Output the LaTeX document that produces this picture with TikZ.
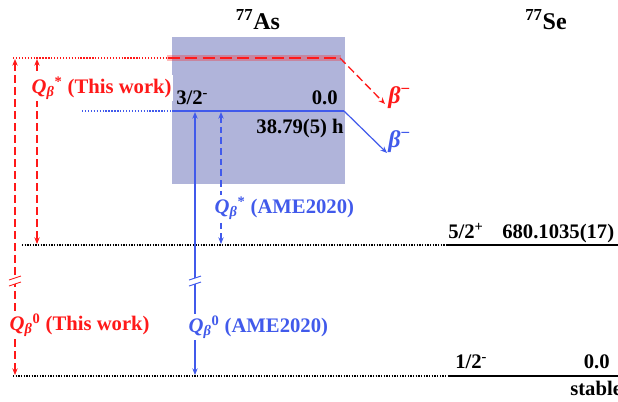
\documentclass[tikz,border=0pt]{standalone}
\usepackage{fontspec}
\setmainfont{Liberation Serif}
\usetikzlibrary{arrows.meta}
\definecolor{myred}{RGB}{255,25,25}
\definecolor{myblue}{RGB}{65,90,235}
\definecolor{boxcol}{RGB}{176,180,218}
\begin{document}
\begin{tikzpicture}[x=0.75pt,y=-0.75pt,
  font=\bfseries\fontsize{15.5}{18}\selectfont,
  lbl/.style={inner sep=0pt, anchor=base west},
  qlbl/.style={inner sep=1pt, anchor=base west, fill=white},
  title/.style={inner sep=0pt, anchor=base, font=\bfseries\fontsize{18}{20}\selectfont},
  betalbl/.style={inner sep=0pt, anchor=base west, font=\bfseries\fontsize{18}{20}\selectfont},
  dotline/.style={line width=1pt, dash pattern=on 1pt off 1pt},
  level/.style={line width=1.4pt},
  tip/.style={-{Stealth[length=5pt,width=4pt]}},
  dtip/.style={{Stealth[length=5pt,width=4pt]}-{Stealth[length=5pt,width=4pt]}},
  reddash/.style={myred, line width=0.8pt, dash pattern=on 6pt off 3pt},
  bluedash/.style={myblue, line width=0.8pt, dash pattern=on 5pt off 3pt},
  brk/.style={line width=0.7pt}
]
\useasboundingbox (0,0) rectangle (618,401);

% shaded box
\fill[boxcol] (172,37) rectangle (345,184);

% coordinates
\coordinate (redL) at (13,58);
\coordinate (redA) at (168,58);
\coordinate (redB) at (340,58);
\coordinate (redE) at (385,104);
\coordinate (blueL) at (82,111);
\coordinate (blueA) at (172,111);
\coordinate (blueB) at (344,111);
\coordinate (blueE) at (387,153);
\coordinate (l1L) at (22,245);
\coordinate (l1A) at (446,245);
\coordinate (l1R) at (618,245);
\coordinate (l0L) at (13,376);
\coordinate (l0A) at (448,376);
\coordinate (l0R) at (618,376);

% titles
\node[title] (as) at (258,29) {\textsuperscript{77}As};
\node[title] (se) at (546,29) {\textsuperscript{77}Se};

% red level
\draw[myred, opacity=0.3, line width=5pt] (167,58) -- (341,58);
\draw[myred, line width=1.1pt, dash pattern=on 9pt off 4pt] (redA) -- (redB);
\draw[myred, line width=0.8pt, dash pattern=on 1pt off 1.2pt] (redL) -- (redA);
\draw[reddash, line width=1pt, tip] (redB) -- (redE);
\node[betalbl, text=myred] (bred) at (388,103) {\textit{β}\textsuperscript{−}};

% blue level
\draw[myblue, line width=1.1pt] (blueA) -- (blueB);
\draw[myblue, line width=1pt, dash pattern=on 1pt off 1.2pt] (blueL) -- (blueA);
\draw[myblue, line width=0.9pt, tip] (blueB) -- (blueE);
\node[betalbl, text=myblue] (bblue) at (388,147) {\textit{β}\textsuperscript{−}};

\node[lbl] (spinAs) at (176,104) {3/2\textsuperscript{-}};
\node[lbl, anchor=base east] (enAs) at (338,104) {0.0};
\node[lbl, anchor=base east] (hl) at (344,133) {38.79(5) h};

% Se levels
\draw[dotline] (l1L) -- (l1A);
\draw[level] (l1A) -- (l1R);
\draw[dotline] (l0L) -- (l0A);
\draw[level] (l0A) -- (l0R);
\node[lbl] (sp1) at (448,238) {5/2\textsuperscript{+}};
\node[lbl] (en1) at (502,238) {680.1035(17)};
\node[lbl] (sp0) at (455,368) {1/2\textsuperscript{-}};
\node[lbl, anchor=base east] (en0) at (610,368) {0.0};
\node[lbl] (st) at (570,395) {stable};

% red arrows
\coordinate (ro1) at (15,59);
\coordinate (ro2) at (15,375);
\draw[reddash, dtip] (ro1) -- (ro2);
\coordinate (ri1) at (37,59);
\coordinate (ri2) at (37,244);
\draw[reddash, dtip] (ri1) -- (ri2);

% blue arrows
\coordinate (bo1) at (195,112);
\coordinate (bo2) at (195,375);
\draw[myblue, line width=0.8pt, dtip] (bo1) -- (bo2);
\coordinate (bi1) at (221,112);
\coordinate (bi2) at (221,244);
\draw[bluedash, dtip] (bi1) -- (bi2);

% break marks
\fill[white] (9,280) -- (21,276) -- (21,282) -- (9,286) -- cycle;
\draw[myred, brk] (9,280) -- (21,276) (9,286) -- (21,282);
\fill[white] (189,280) -- (201,276) -- (201,282) -- (189,286) -- cycle;
\draw[myblue, brk] (189,280) -- (201,276) (189,286) -- (201,282);

% Q labels
\node[qlbl, text=myred] (q1) at (30,93) {\textit{Q}\textsubscript{\textit{β}}\textsuperscript{*} (This work)};
\node[qlbl, text=myred] (q2) at (8,330) {\textit{Q}\textsubscript{\textit{β}}\textsuperscript{0} (This work)};
\node[qlbl, text=myblue] (q3) at (213,213) {\textit{Q}\textsubscript{\textit{β}}\textsuperscript{*} (AME2020)};
\node[qlbl, text=myblue] (q4) at (187,332) {\textit{Q}\textsubscript{\textit{β}}\textsuperscript{0} (AME2020)};
\end{tikzpicture}
\end{document}
